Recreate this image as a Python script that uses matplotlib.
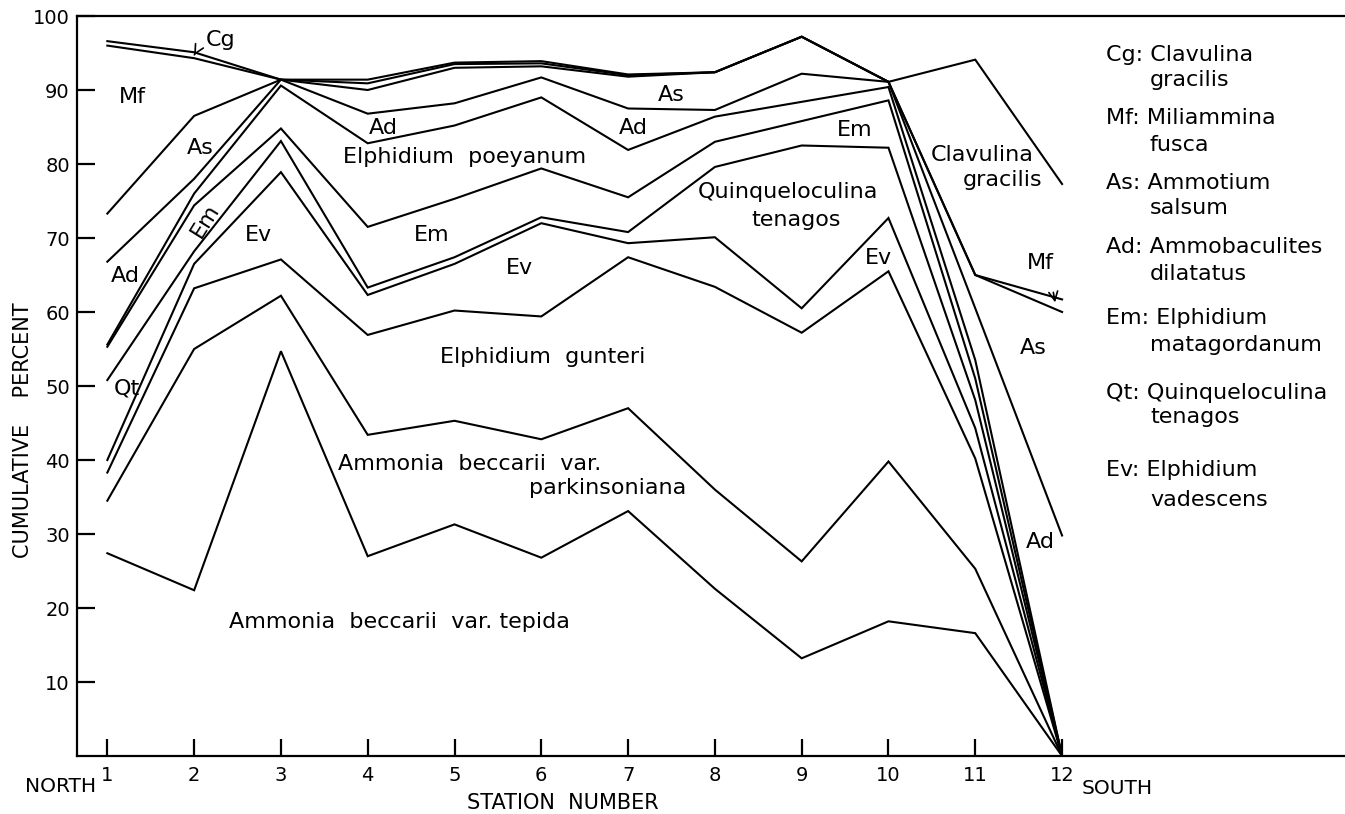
import numpy as np
import matplotlib
matplotlib.use('Agg')
import matplotlib.pyplot as plt

# stations along the transect, north to south
stations = np.arange(1, 13)

# cumulative percent, top boundary of each group (bottom to top)
tepida        = [27.4, 22.4, 54.7, 27.0, 31.3, 26.8, 33.1, 22.6, 13.2, 18.2, 16.6, 0]
parkinsoniana = [34.5, 55.0, 62.2, 43.4, 45.3, 42.8, 47.0, 36.0, 26.3, 39.8, 25.3, 0]
gunteri       = [38.3, 63.2, 67.1, 56.9, 60.2, 59.4, 67.4, 63.4, 57.2, 65.5, 40.2, 0]
ev            = [40.0, 66.5, 78.9, 62.3, 66.5, 72.0, 69.3, 70.1, 60.5, 72.7, 44.3, 0]
qt            = [50.8, 68.2, 83.1, 63.3, 67.4, 72.8, 70.8, 79.6, 82.5, 82.2, 48.1, 0]
em            = [55.3, 74.4, 84.8, 71.5, 75.3, 79.4, 75.5, 83.0, 85.8, 88.6, 51.0, 0]
poeyanum      = [55.6, 76.0, 90.6, 82.8, 85.2, 89.0, 81.9, 86.4, 88.4, 90.4, 53.5, 0]
ad            = [66.8, 78.0, 91.4, 86.8, 88.2, 91.7, 87.5, 87.3, 92.2, 91.1, 60.5, 29.8]
as_           = [73.3, 86.5, 91.4, 90.0, 93.0, 93.2, 91.8, 92.4, 97.2, 91.1, 65.0, 60.0]
mf            = [96.0, 94.3, 91.4, 90.9, 93.5, 93.6, 92.0, 92.4, 97.2, 91.1, 65.0, 61.7]
cg            = [96.6, 95.1, 91.4, 91.4, 93.7, 93.9, 92.1, 92.4, 97.2, 91.1, 94.1, 77.3]

boundaries = [tepida, parkinsoniana, gunteri, ev, qt, em, poeyanum, ad, as_, mf, cg]

yticks = [10, 20, 30, 40, 50, 60, 70, 80, 90, 100]

# labels inside the plot: (text, station, percent)
area_labels = [
    ('Mf', 1.29, 89.0), ('As', 2.07, 82.1), ('Ad', 1.21, 64.9), ('Qt', 1.23, 49.7),
    ('Ev', 2.74, 70.4), ('Ad', 4.18, 84.9), ('Elphidium  poeyanum', 5.12, 80.9),
    ('Em', 4.74, 70.4), ('Ev', 5.75, 66.0), ('Elphidium  gunteri', 6.02, 53.9),
    ('Ammonia  beccarii  var.', 5.17, 39.5), ('parkinsoniana', 6.76, 36.2),
    ('Ammonia  beccarii  var. tepida', 4.36, 18.1), ('As', 7.50, 89.3),
    ('Ad', 7.06, 84.8), ('Quinqueloculina', 8.84, 76.2), ('tenagos', 8.94, 72.4),
    ('Em', 9.61, 84.6), ('Ev', 9.88, 67.3), ('Clavulina', 11.08, 81.2),
    ('gracilis', 11.32, 77.8), ('As', 11.67, 55.2), ('Ad', 11.75, 28.9),
]

key_codes = ['Cg:', 'Mf:', 'As:', 'Ad:', 'Em:', 'Qt:', 'Ev:']
key_genus = ['Clavulina', 'Miliammina', 'Ammotium', 'Ammobaculites',
             'Elphidium', 'Quinqueloculina', 'Elphidium']
key_species = ['gracilis', 'fusca', 'salsum', 'dilatatus',
               'matagordanum', 'tenagos', 'vadescens']

W, H = 1345, 814
dpi = 100
fig = plt.figure(figsize=(W/dpi, H/dpi), dpi=dpi)
ax = fig.add_axes([76.7/W, 58/H, 1 - 76.7/W, 740/H])

for b in boundaries:
    ax.plot(stations, b, color='black', lw=1.5, solid_joinstyle='miter')

ax.set_xlim(0.647, 15.26)
ax.set_ylim(0, 100)
ax.spines['right'].set_visible(False)
for s in ['left', 'bottom', 'top']:
    ax.spines[s].set_linewidth(1.6)

ax.set_xticks(stations)
ax.set_xticklabels([str(s) for s in stations], fontsize=14)
ax.set_yticks(yticks)
ax.set_yticklabels([str(t) for t in yticks], fontsize=14)
ax.tick_params(axis='x', direction='in', length=12, width=1.6, pad=7)
ax.tick_params(axis='y', direction='in', length=13, width=1.6, pad=5)

fs = 16
for txt, x, y in area_labels:
    ax.text(x, y, txt, fontsize=fs, ha='center', va='center')
ax.text(2.13, 72.4, 'Em', fontsize=fs, ha='center', va='center', rotation=58)

ax.annotate('Cg', xy=(2.0, 94.7), xytext=(2.3, 96.7), fontsize=fs,
            ha='center', va='center',
            arrowprops=dict(arrowstyle='->', lw=1.2, color='black',
                            connectionstyle='arc3,rad=0.3', shrinkA=9, shrinkB=0))
ax.annotate('Mf', xy=(11.92, 61.3), xytext=(11.75, 66.6), fontsize=fs,
            ha='center', va='center',
            arrowprops=dict(arrowstyle='->', lw=1.2, color='black',
                            connectionstyle='angle,angleA=0,angleB=100,rad=4',
                            shrinkA=12, shrinkB=0))

ax.set_ylabel('CUMULATIVE    PERCENT', fontsize=15)
ax.yaxis.set_label_coords(-44/1268, (755.7 - 430) / 740)
fig.text(563/W, 1 - 803/H, 'STATION  NUMBER', fontsize=15, ha='center', va='center')
fig.text(61/W, 1 - 786/H, 'NORTH', fontsize=14.5, ha='center', va='center')
fig.text(1117/W, 1 - 788/H, 'SOUTH', fontsize=14.5, ha='center', va='center')

key_y = [55, 118, 183, 247, 318, 393, 470]
sub_y = [80, 145, 208, 274, 345, 417, 500]
for code, genus, sp, y1, y2 in zip(key_codes, key_genus, key_species, key_y, sub_y):
    fig.text(1106/W, 1 - y1/H, code + ' ' + genus, fontsize=fs, ha='left', va='center')
    fig.text(1150/W, 1 - y2/H, sp, fontsize=fs, ha='left', va='center')

fig.savefig('out.png', dpi=dpi)
